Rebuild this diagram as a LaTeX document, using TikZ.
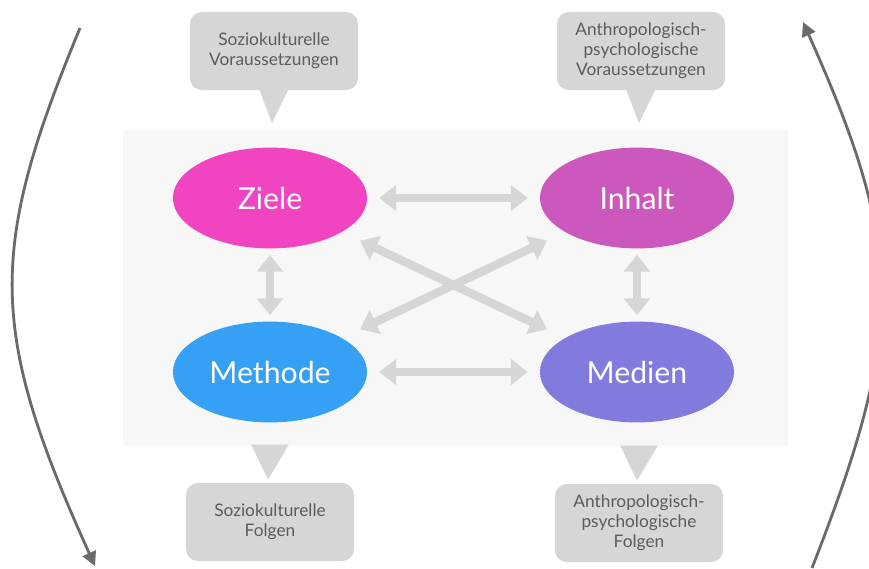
\documentclass[tikz,border=0pt]{standalone}
\usepackage{fontspec}
\setmainfont{Lato}
\usetikzlibrary{shapes.geometric,arrows.meta}
\definecolor{zielecol}{HTML}{F044C0}
\definecolor{inhaltcol}{HTML}{CC58BE}
\definecolor{methodecol}{HTML}{36A0F4}
\definecolor{mediencol}{HTML}{807BDC}
\definecolor{boxgray}{HTML}{D6D6D6}
\definecolor{textgray}{HTML}{5C5C5C}
\definecolor{linkgray}{HTML}{D6D6D6}
\definecolor{curvegray}{HTML}{6A6A6A}
\definecolor{panelgray}{HTML}{F7F7F7}

\begin{document}
\begin{tikzpicture}[x=0.025cm, y=-0.025cm,
  ell/.style={ellipse, minimum width=4.85cm, minimum height=2.52cm,
              text=white, font=\fontsize{21.5}{24}\selectfont},
  callout/.style={fill=boxgray, rounded corners=0.3cm, minimum width=4.2cm,
                  minimum height=1.95cm, align=center, text=textgray,
                  font=\fontsize{12.3}{14.3}\selectfont},
  link/.style={draw=linkgray, line width=6pt, shorten <=0.3cm, shorten >=0.3cm,
               {Triangle[length=12pt,width=18pt]}-{Triangle[length=12pt,width=18pt]}},
  ringarrow/.style={draw=curvegray, line width=2pt, -{Triangle[length=10pt,width=10pt]}},
]
  \fill[white] (0,0) rectangle (869,568);
  \clip (0,0) rectangle (869,568);
  \fill[panelgray] (123,130) rectangle (788,446);

  \node[ell, fill=zielecol] (zi) at (270,198) {Ziele};
  \node[ell, fill=inhaltcol] (in) at (637,198) {Inhalt};
  \node[ell, fill=methodecol] (mt) at (270,372) {Methode};
  \node[ell, fill=mediencol] (md) at (637,372) {Medien};

  \draw[link] (zi) -- (in);
  \draw[link] (mt) -- (md);
  \draw[link, shorten <=0.15cm, shorten >=0.15cm] (zi) -- (mt);
  \draw[link, shorten <=0.15cm, shorten >=0.15cm] (in) -- (md);
  \draw[link, shorten <=0.5cm, shorten >=0.5cm] (zi) -- (md);
  \draw[link, shorten <=0.5cm, shorten >=0.5cm] (in) -- (mt);

  \node[callout] (sv) at (274,51) {Soziokulturelle\\Voraussetzungen};
  \node[callout] (av) at (641,51) {Anthropologisch-\\psychologische\\Voraussetzungen};
  \node[callout] (sf) at (270,522) {Soziokulturelle\\Folgen};
  \node[callout] (af) at (639,523) {Anthropologisch-\\psychologische\\Folgen};

  \fill[boxgray] ([xshift=-0.4cm, yshift=0.1cm]sv.south) -- ([xshift=0.4cm, yshift=0.1cm]sv.south)
    -- ([xshift=-0.05cm, yshift=-0.82cm]sv.south) -- cycle;
  \fill[boxgray] ([xshift=-0.4cm, yshift=0.1cm]av.south) -- ([xshift=0.4cm, yshift=0.1cm]av.south)
    -- ([xshift=-0.05cm, yshift=-0.82cm]av.south) -- cycle;
  \fill[boxgray] ([xshift=-0.47cm, yshift=0.95cm]sf.north) -- ([xshift=0.47cm, yshift=0.95cm]sf.north)
    -- ([xshift=-0.05cm, yshift=0.08cm]sf.north) -- cycle;
  \fill[boxgray] ([xshift=-0.47cm, yshift=0.95cm]af.north) -- ([xshift=0.47cm, yshift=0.95cm]af.north)
    -- ([xshift=-0.05cm, yshift=0.08cm]af.north) -- cycle;

  \coordinate (ls) at (80,28);
  \coordinate (le) at (95,566);
  \coordinate (rs) at (812,568);
  \coordinate (re) at (803,22);
  \draw[ringarrow] (ls) .. controls (-12,250) and (-12,330) .. (le);
  \draw[ringarrow] (rs) .. controls (905,330) and (905,250) .. (re);
\end{tikzpicture}
\end{document}
